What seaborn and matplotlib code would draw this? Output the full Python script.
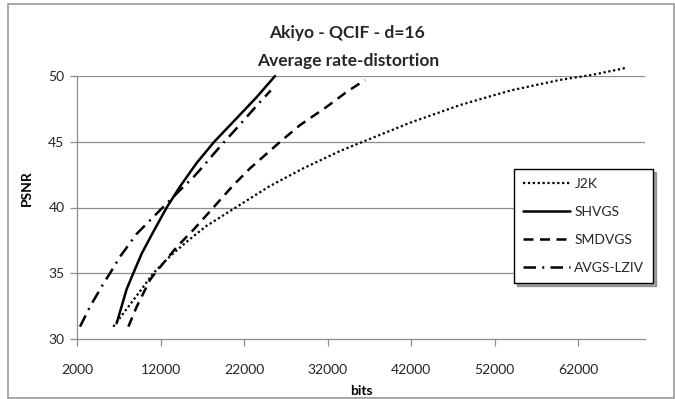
import matplotlib
matplotlib.use("Agg")
import matplotlib.pyplot as plt
import seaborn as sns
import pandas as pd
from matplotlib.patches import Rectangle

# Rate-distortion curves (bits vs PSNR)
j2k_bits = [6350, 7550, 9150, 11140, 13140, 15140, 17500, 21000, 25000, 29000,
            33500, 37000, 41900, 47900, 53900, 59800, 63800, 67600]
j2k_psnr = [30.94, 31.95, 33.3, 35.0, 36.3, 37.4, 38.6, 40.0, 41.6, 42.95,
            44.3, 45.2, 46.45, 47.8, 48.9, 49.7, 50.1, 50.6]

shvgs_bits = [6750, 7950, 8740, 9750, 11140, 12740, 14340, 16340, 18430, 21130, 23520, 25710]
shvgs_psnr = [31.2, 33.8, 35.0, 36.5, 38.16, 40.0, 41.6, 43.4, 45.0, 46.8, 48.4, 50.0]

smdvgs_bits = [8150, 9150, 10740, 11340, 13940, 15930, 18330, 20720, 22720, 24720,
               26510, 28710, 31900, 34300, 36490]
smdvgs_psnr = [30.94, 32.46, 34.5, 35.0, 37.0, 38.3, 40.0, 41.7, 42.98, 44.1,
               45.1, 46.27, 47.66, 48.8, 49.7]

avgs_bits = [2360, 3560, 5150, 5950, 7150, 9150, 12260, 14540, 15930, 17130,
             18330, 19500, 20720, 21920, 23520, 25190]
avgs_psnr = [30.94, 32.46, 34.2, 35.0, 36.26, 38.0, 40.0, 41.45, 42.3, 43.15,
             44.05, 44.9, 45.75, 46.6, 47.75, 48.9]

series_names = ["J2K", "SHVGS", "SMDVGS", "AVGS-LZIV"]
x_ticks = [2000, 12000, 22000, 32000, 42000, 52000, 62000]
y_ticks = [30, 35, 40, 45, 50]

sns.set_theme(style="white")
plt.rcParams["font.family"] = ["Lato", "DejaVu Sans"]

fig = plt.figure(figsize=(6.75, 3.99), dpi=100)
ax = fig.add_axes([77 / 675, 1 - 339 / 399, (645 - 77) / 675, (339 - 76) / 399])

# outer chart frame
fig.patches.append(Rectangle((8 / 675, 1 / 399), 666 / 675, 394 / 399,
                             transform=fig.transFigure, fill=False,
                             edgecolor="#9a9a9a", lw=1.2))

grid_c = "#8c8c8c"
text_c = "#262626"
for yv in y_ticks[1:]:
    ax.axhline(yv, color=grid_c, lw=0.9, zorder=0)

data = [
    (j2k_bits, j2k_psnr, (0, (1, 1.2)), 1.6),
    (shvgs_bits, shvgs_psnr, "-", 1.8),
    (smdvgs_bits, smdvgs_psnr, (0, (4, 2.6)), 1.8),
    (avgs_bits, avgs_psnr, (0, (5, 2.5, 0.8, 2.5)), 1.8),
]
for (xs, ys, ls, lw), name in zip(data, series_names):
    df = pd.DataFrame({"bits": xs, "PSNR": ys})
    sns.lineplot(data=df, x="bits", y="PSNR", ax=ax, sort=False, color="black",
                 linestyle=ls, lw=lw, label=name, estimator=None, clip_on=False)

ax.set_xlim(2000, 70000)
ax.set_ylim(30, 50)
ax.set_xticks(x_ticks)
ax.set_yticks(y_ticks)
ax.set_xticklabels([str(v) for v in x_ticks], fontsize=10, color=text_c)
ax.set_yticklabels([str(v) for v in y_ticks], fontsize=10, color=text_c)
ax.tick_params(axis="x", direction="out", length=5, width=0.9, color=grid_c, pad=13, bottom=True)
ax.tick_params(axis="y", direction="out", length=5, width=0.9, color=grid_c, pad=4, left=True)

for side in ["top", "right"]:
    ax.spines[side].set_visible(False)
for side in ["left", "bottom"]:
    ax.spines[side].set_color(grid_c)
    ax.spines[side].set_linewidth(0.9)

ax.set_xlabel("bits", fontsize=10, fontweight="bold", color="black")
ax.set_ylabel("PSNR", fontsize=10, fontweight="bold", color="black")
ax.xaxis.set_label_coords(0.501, -0.175)
ax.yaxis.set_label_coords(-0.078, 0.574)

fig.text(347 / 675, 1 - 33 / 399, "Akiyo - QCIF - d=16", ha="center", va="center",
         fontsize=12.5, fontweight="bold")
fig.text(348 / 675, 1 - 61 / 399, "Average rate-distortion", ha="center", va="center",
         fontsize=12.5, fontweight="bold")

leg = ax.legend(loc="upper left", bbox_to_anchor=(514 / 675, 1 - 169 / 399),
                bbox_transform=fig.transFigure, fontsize=10, frameon=True,
                fancybox=False, shadow=True, handlelength=3.4, handletextpad=0.3,
                labelspacing=1.15, borderpad=0.65, borderaxespad=0)
leg.get_frame().set_edgecolor("black")
leg.get_frame().set_linewidth(1.0)
for t in leg.get_texts():
    t.set_color(text_c)

fig.savefig("out.png", dpi=100)
